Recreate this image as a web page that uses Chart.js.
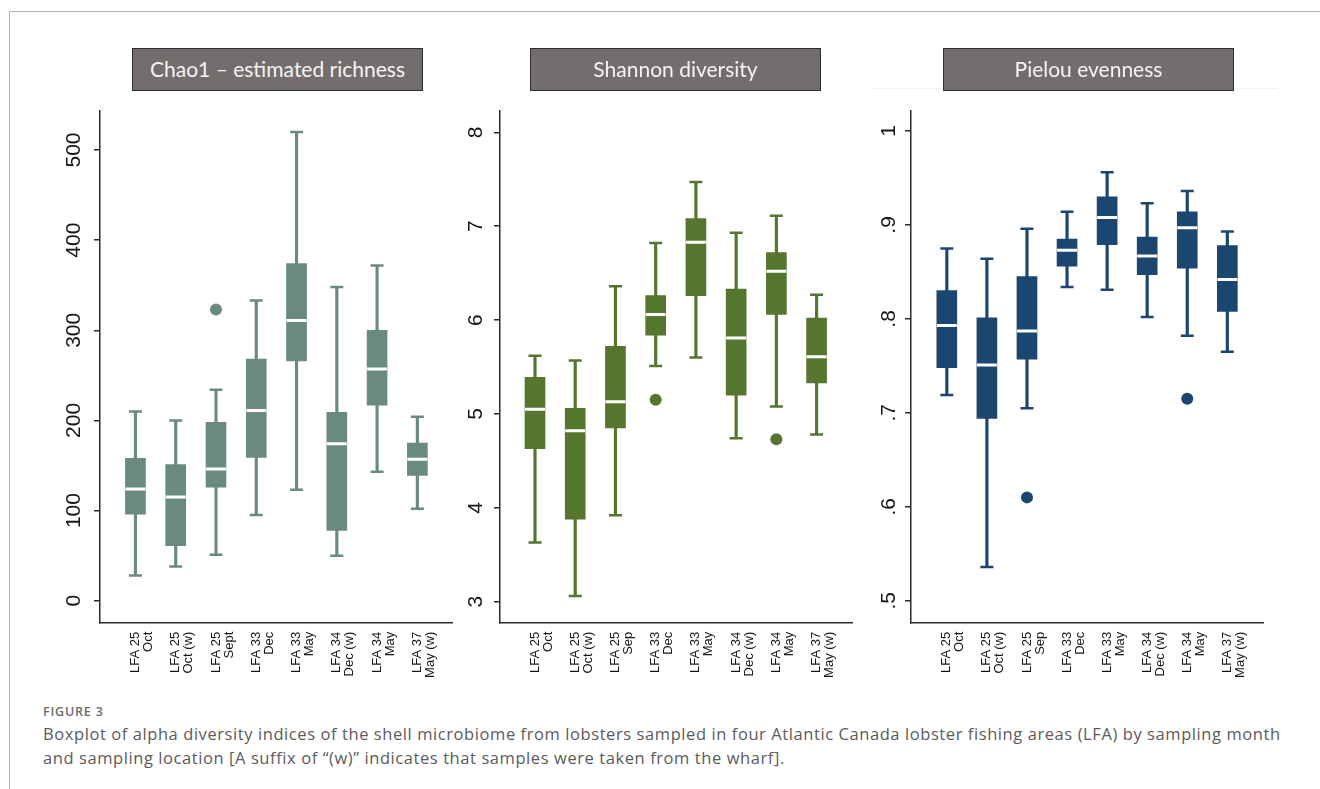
<!DOCTYPE html>
<html>
<head>
<meta charset="utf-8">
<title>Figure 3 - alpha diversity of the lobster shell microbiome</title>
<script src="https://cdn.jsdelivr.net/npm/chart.js@4.4.1/dist/chart.umd.min.js"></script>
<style>
    html, body { margin: 0; padding: 0; background: #ffffff; }
    body { position: relative; width: 1320px; height: 789px; overflow: hidden; font-family: 'Open Sans', sans-serif; }
    .frame { position: absolute; left: 9px; top: 11px; width: 1400px; height: 900px; border-left: 1px solid #b4b4b4; border-top: 1px solid #b4b4b4; }
    .panel-title { position: absolute; top: 48px; width: 291px; height: 43px; box-sizing: border-box; background: #736e6d; border: 1.5px solid #2e2e2e; color: #f4f4f4; font-family: Lato, sans-serif; font-size: 21px; line-height: 40px; text-align: center; z-index: 2; }
    .faint-rule { position: absolute; left: 872px; top: 88px; width: 405px; height: 1px; background: #f2f2f2; }
    canvas { position: absolute; z-index: 1; }
    .fig-label { position: absolute; left: 43px; top: 704px; font-size: 12.5px; font-weight: 600; color: #6b6b6b; letter-spacing: 0.8px; line-height: 16px; }
    .caption { position: absolute; left: 43px; top: 722px; font-size: 16.5px; letter-spacing: 0.58px; color: #5b5b5b; line-height: 24px; white-space: nowrap; }
</style>
</head>
<body>
<div class="frame"></div>
<div class="faint-rule"></div>
<div class="panel-title" style="left:132px">Chao1 – estimated richness</div>
<div class="panel-title" style="left:530px">Shannon diversity</div>
<div class="panel-title" style="left:943px">Pielou evenness</div>
<canvas id="chaoChart"></canvas>
<canvas id="shannonChart"></canvas>
<canvas id="pielouChart"></canvas>
<div class="fig-label">FIGURE 3</div>
<div class="caption">Boxplot of alpha diversity indices of the shell microbiome from lobsters sampled in four Atlantic Canada lobster fishing areas (LFA) by sampling month<br>and sampling location [A suffix of “(w)” indicates that samples were taken from the wharf].</div>

<script>
// Categories (the first panel spells September "Sept")
const chaoLabels = [["LFA 25", "Oct"], ["LFA 25", "Oct (w)"], ["LFA 25", "Sept"], ["LFA 33", "Dec"],
                    ["LFA 33", "May"], ["LFA 34", "Dec (w)"], ["LFA 34", "May"], ["LFA 37", "May (w)"]];
const groupLabels = [["LFA 25", "Oct"], ["LFA 25", "Oct (w)"], ["LFA 25", "Sep"], ["LFA 33", "Dec"],
                     ["LFA 33", "May"], ["LFA 34", "Dec (w)"], ["LFA 34", "May"], ["LFA 37", "May (w)"]];

// Chao1 - estimated richness
const chaoMin = [28, 38, 51, 95, 123, 50, 143, 102];
const chaoQ1 = [96, 61, 126, 159, 266, 78, 217, 139];
const chaoMedian = [124, 115, 146, 211, 311, 174, 257, 157];
const chaoQ3 = [158, 151, 198, 268, 374, 209, 300, 175];
const chaoMax = [210, 200, 234, 333, 520, 348, 372, 204];
const chaoOutliers = [null, null, 323, null, null, null, null, null];
const chaoTicks = [0, 100, 200, 300, 400, 500];
const chaoTickLabels = ["0", "100", "200", "300", "400", "500"];

// Shannon diversity
const shannonMin = [3.63, 3.06, 3.92, 5.51, 5.60, 4.74, 5.08, 4.78];
const shannonQ1 = [4.63, 3.88, 4.85, 5.84, 6.26, 5.20, 6.06, 5.33];
const shannonMedian = [5.05, 4.82, 5.13, 6.06, 6.83, 5.81, 6.52, 5.61];
const shannonQ3 = [5.39, 5.06, 5.72, 6.26, 7.08, 6.33, 6.72, 6.02];
const shannonMax = [5.62, 5.57, 6.36, 6.82, 7.47, 6.93, 7.11, 6.27];
const shannonOutliers = [null, null, null, 5.15, null, null, 4.73, null];
const shannonTicks = [3, 4, 5, 6, 7, 8];
const shannonTickLabels = ["3", "4", "5", "6", "7", "8"];

// Pielou evenness
const pielouMin = [0.719, 0.536, 0.705, 0.834, 0.831, 0.802, 0.782, 0.765];
const pielouQ1 = [0.748, 0.694, 0.757, 0.856, 0.879, 0.847, 0.854, 0.808];
const pielouMedian = [0.793, 0.751, 0.787, 0.873, 0.908, 0.867, 0.897, 0.842];
const pielouQ3 = [0.830, 0.801, 0.845, 0.885, 0.930, 0.887, 0.914, 0.878];
const pielouMax = [0.875, 0.864, 0.896, 0.914, 0.956, 0.923, 0.936, 0.893];
const pielouOutliers = [null, null, 0.610, null, null, null, 0.715, null];
const pielouTicks = [0.5, 0.6, 0.7, 0.8, 0.9, 1];
const pielouTickLabels = [".5", ".6", ".7", ".8", ".9", "1"];

Chart.defaults.font.family = "'Liberation Sans', Arial, sans-serif";

const AXIS_COLOR = '#2b2b2b';
const CANVAS_TOP = 40;
const CANVAS_BOTTOM = 700;

// One boxplot panel: floating bars for the boxes and whiskers, point styles for caps, medians and outliers
function boxplotPanel(opts) {
    const canvas = document.getElementById(opts.id);
    const left = opts.plot.left - 90;
    canvas.width = opts.plot.right - left + 10;
    canvas.height = CANVAS_BOTTOM - CANVAS_TOP;
    canvas.style.left = left + 'px';
    canvas.style.top = CANVAS_TOP + 'px';

    const points = values => values.map((v, i) => ({ x: i, y: v })).filter(p => p.y !== null);
    const ranges = (lo, hi) => lo.map((v, i) => ({ x: i, y: [v, hi[i]] }));
    const capStyle = {
        type: 'line', showLine: false, pointStyle: 'line', pointRadius: 6.5,
        borderColor: opts.color, pointBorderColor: opts.color, pointBorderWidth: 2.5
    };

    return new Chart(canvas, {
        type: 'bar',
        data: {
            datasets: [
                { type: 'line', data: points(opts.median), showLine: false, pointStyle: 'line', pointRadius: 10,
                  borderColor: '#ffffff', pointBorderColor: '#ffffff', pointBorderWidth: 3 },
                { type: 'line', data: points(opts.outliers), showLine: false, pointStyle: 'circle', pointRadius: 6,
                  borderColor: opts.color, backgroundColor: opts.color, pointBackgroundColor: opts.color, pointBorderWidth: 0 },
                { ...capStyle, data: points(opts.max) },
                { ...capStyle, data: points(opts.min) },
                { data: ranges(opts.q1, opts.q3), backgroundColor: opts.color, barThickness: 20, grouped: false },
                { data: ranges(opts.min, opts.max), backgroundColor: opts.color, barThickness: 2.5, grouped: false }
            ]
        },
        options: {
            responsive: false,
            animation: false,
            events: [],
            layout: { padding: { top: opts.plot.top - CANVAS_TOP, right: 10, left: 0, bottom: 0 } },
            plugins: {
                legend: { display: false },
                tooltip: { enabled: false }
            },
            scales: {
                x: {
                    type: 'linear',
                    min: opts.xMin,
                    max: opts.xMax,
                    offset: false,
                    grid: { display: false, drawTicks: false },
                    border: { color: AXIS_COLOR, width: 1.5 },
                    afterBuildTicks: axis => { axis.ticks = opts.labels.map((l, i) => ({ value: i })); },
                    afterFit: axis => { axis.height = CANVAS_BOTTOM - opts.plot.bottom; },
                    ticks: {
                        autoSkip: false,
                        minRotation: 90,
                        maxRotation: 90,
                        padding: 9,
                        color: '#161616',
                        font: { size: 13, lineHeight: 1.0 },
                        callback: (v, i) => opts.labels[i]
                    }
                },
                y: {
                    min: opts.yMin,
                    max: opts.yMax,
                    grid: { drawOnChartArea: false, tickLength: 6, color: AXIS_COLOR, lineWidth: 1.5 },
                    border: { color: AXIS_COLOR, width: 1.5 },
                    afterBuildTicks: axis => { axis.ticks = opts.ticks.map(v => ({ value: v })); },
                    afterFit: axis => { axis.width = 90; },
                    ticks: {
                        autoSkip: false,
                        minRotation: 90,
                        crossAlign: 'center',
                        padding: opts.tickPad,
                        color: '#161616',
                        font: { size: 21 },
                        callback: (v, i) => opts.tickLabels[i]
                    }
                }
            }
        }
    });
}

boxplotPanel({
    id: 'chaoChart', color: '#6b8a7e',
    plot: { left: 100, right: 455, top: 111, bottom: 622.7 },
    xMin: -0.88, xMax: 7.86, yMin: -24.4, yMax: 543.3, tickPad: 2,
    labels: chaoLabels, ticks: chaoTicks, tickLabels: chaoTickLabels,
    min: chaoMin, q1: chaoQ1, median: chaoMedian, q3: chaoQ3, max: chaoMax, outliers: chaoOutliers
});

boxplotPanel({
    id: 'shannonChart', color: '#56752f',
    plot: { left: 500, right: 855, top: 111, bottom: 622.7 },
    xMin: -0.87, xMax: 7.88, yMin: 2.776, yMax: 8.227, tickPad: 12,
    labels: groupLabels, ticks: shannonTicks, tickLabels: shannonTickLabels,
    min: shannonMin, q1: shannonQ1, median: shannonMedian, q3: shannonQ3, max: shannonMax, outliers: shannonOutliers
});

boxplotPanel({
    id: 'pielouChart', color: '#1b4670',
    plot: { left: 910.5, right: 1266, top: 110.7, bottom: 622.7 },
    xMin: -0.894, xMax: 7.89, yMin: 0.4766, yMax: 1.0216, tickPad: 7,
    labels: groupLabels, ticks: pielouTicks, tickLabels: pielouTickLabels,
    min: pielouMin, q1: pielouQ1, median: pielouMedian, q3: pielouQ3, max: pielouMax, outliers: pielouOutliers
});
</script>
</body>
</html>
